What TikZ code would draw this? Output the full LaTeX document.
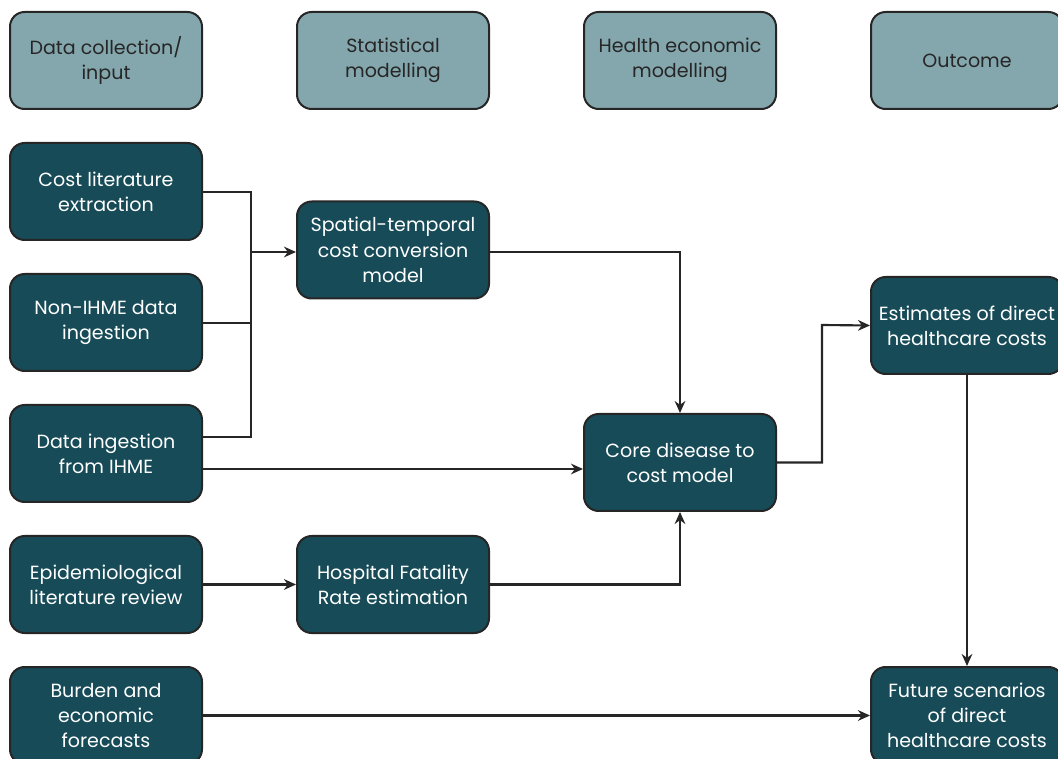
\documentclass[tikz,border=0pt]{standalone}
\usepackage{fontspec}
\setmainfont{Poppins}
\usetikzlibrary{arrows.meta}
\definecolor{headfill}{HTML}{84A7AD}
\definecolor{darkfill}{HTML}{164B57}
\definecolor{edge}{HTML}{262626}
\begin{document}
\begin{tikzpicture}[x=0.75pt,y=-0.75pt,
  box/.style={draw=edge,line width=1.5pt,rounded corners=11pt,minimum width=144pt,minimum height=72.75pt,align=center,inner sep=0pt,font=\fontsize{14.3}{18.9}\selectfont},
  headbox/.style={box,fill=headfill,text=black!85},
  databox/.style={box,fill=darkfill,text=white},
  conn/.style={draw=edge,line width=1.6pt},
  arr/.style={conn,-{Stealth[length=9pt,width=8pt]}}]
\useasboundingbox (0,0) rectangle (1058,759);
% headers
\node[headbox] (h1) at (106,60.5) {Data collection/\\input};
\node[headbox] (h2) at (393,60.5) {Statistical\\modelling};
\node[headbox] (h3) at (680,60.5) {Health economic\\modelling};
\node[headbox] (h4) at (967,60.5) {Outcome};
% column 1
\node[databox] (cost) at (106,191.5) {Cost literature\\extraction};
\node[databox] (nonihme) at (106,322.5) {Non-IHME data\\ingestion};
\node[databox] (ihme) at (106,453.5) {Data ingestion\\from IHME};
\node[databox] (epi) at (106,584.5) {Epidemiological\\literature review};
\node[databox] (burden) at (106,715.5) {Burden and\\economic\\forecasts};
% column 2
\node[databox] (spatial) at (393,250) {Spatial-temporal\\cost conversion\\model};
\node[databox] (hosp) at (393,584.5) {Hospital Fatality\\Rate estimation};
% column 3
\node[databox] (core) at (680,462.5) {Core disease to\\cost model};
% column 4
\node[databox] (est) at (967,325.5) {Estimates of direct\\healthcare costs};
\node[databox] (future) at (967,715.5) {Future scenarios\\of direct\\healthcare costs};
% connectors
\coordinate (bus) at (251,252);
\draw[conn] (cost.east |- 0,192) -| (bus);
\draw[conn] (nonihme.east |- 0,323) -| (bus);
\draw[conn] (ihme.east |- 0,437) -| (bus);
\draw[arr] (bus) -- (spatial.west |- bus);
\draw[arr] (spatial.east |- bus) -| (core.north);
\draw[arr] (ihme.east |- 0,469) -- (core.west |- 0,469);
\draw[arr] (epi.east) -- (hosp.west);
\draw[arr] (hosp.east) -| (core.south);
\coordinate (jn) at (822,325);
\draw[arr] (core.east) -| (jn) -- (est.west);
\draw[arr] (est.south) -- (future.north);
\draw[arr] (burden.east) -- (future.west);
\end{tikzpicture}
\end{document}
